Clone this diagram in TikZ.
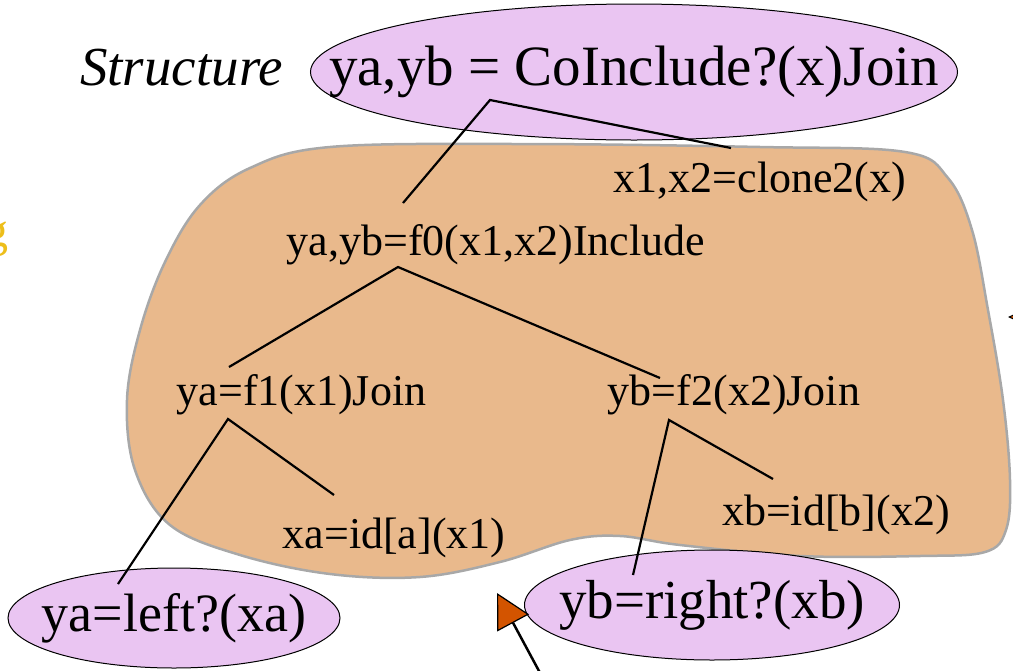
\documentclass[tikz,border=0pt]{standalone}
\usepackage{fontspec}
\setmainfont{Liberation Serif}
\usetikzlibrary{arrows.meta,calc,shapes.geometric}
\definecolor{blobfill}{HTML}{E9B98C}
\definecolor{blobedge}{HTML}{A8A8A8}
\definecolor{predfill}{HTML}{EAC5F2}
\definecolor{ptrorange}{HTML}{D35400}
\definecolor{hintgold}{HTML}{EDBE1A}
\tikzset{
  pred style/.style={ellipse, draw, fill=predfill, line width=1pt, inner sep=0pt},
  op style/.style={anchor=base, inner sep=0pt, font=\fontsize{44}{48}\selectfont},
  br style/.style={line width=2.2pt},
  ptr style/.style={line width=2.5pt, -{Triangle[length=34pt,width=36pt,fill=ptrorange,line width=1.2pt]}}
}
\begin{document}
\begin{tikzpicture}[x=1pt,y=-1pt]
\useasboundingbox (0,0) rectangle (1013,670);
\clip (0,0) rectangle (1013,670);

% wrapped region
\filldraw[fill=blobfill, draw=blobedge, line width=2.5pt]
  plot[smooth cycle, tension=0.6] coordinates {
    (330,147) (520,144) (760,147) (905,152) (948,178) (972,230) (988,310)
    (1003,400) (1010,480) (1006,530) (985,552) (920,556) (800,556) (680,545)
    (620,536) (570,540) (500,562) (420,577) (330,574) (240,555) (170,525)
    (135,470) (127,400) (140,330) (165,262) (200,205) (250,168)};

% predicates
\node[pred style, minimum width=647pt, minimum height=136pt, font=\fontsize{57}{60}\selectfont]
  (cojoin) at (634,72) {\makebox[0pt]{ya,yb = CoInclude?(x)Join}};
\node[anchor=base, inner sep=0pt, font=\itshape\fontsize{55}{60}\selectfont]
  (struct) at (181.5,85) {Structure};
\node[pred style, minimum width=332pt, minimum height=100pt, font=\fontsize{54}{58}\selectfont]
  (left) at (174,618) {\makebox[0pt]{ya=left?(xa)}};
\node[pred style, minimum width=375pt, minimum height=110pt, font=\fontsize{55}{58}\selectfont]
  (right) at (712,605) {\makebox[0pt]{yb=right?(xb)}};

% operators
\node[op style] (clone) at (760,192) {x1,x2=clone2(x)};
\node[op style] (f0) at (496,255) {ya,yb=f0(x1,x2)Include};
\node[op style] (f1) at (301.5,405) {ya=f1(x1)Join};
\node[op style] (f2) at (734,405) {yb=f2(x2)Join};
\node[op style] (ida) at (394,548) {xa=id[a](x1)};
\node[op style] (idb) at (836,525) {xb=id[b](x2)};

\node[anchor=base east, inner sep=0pt, text=hintgold, font=\fontsize{48}{50}\selectfont]
  (hint) at (9,246) {g};

% branches
\draw[br style] ($(f0.base)+(-93,-52)$) -- ($(cojoin.center)+(-144,28)$) -- ($(clone.base)+(-29,-44)$);
\draw[br style] ($(f1.base)+(-72.5,-38)$) -- ($(f0.base)+(-98,12)$) -- ($(f2.base)+(-74,-27)$);
\draw[br style] ($(left.center)+(-56,-34)$) -- ($(f1.base)+(-73.5,14)$) -- ($(ida.base)+(-60,-53)$);
\draw[br style] ($(right.center)+(-79,-30)$) -- ($(f2.base)+(-65,15)$) -- ($(idb.base)+(-63,-46)$);

% pointers
\coordinate (ptr tail) at (546,684);
\coordinate (ptr tip) at (497,593);
\draw[ptr style] (ptr tail) -- (ptr tip);
\coordinate (side tail) at (1040,317);
\coordinate (side tip) at (1008,317);
\draw[line width=1pt, -{Triangle[length=9pt,width=8pt,fill=ptrorange]}] (side tail) -- (side tip);

\end{tikzpicture}
\end{document}
